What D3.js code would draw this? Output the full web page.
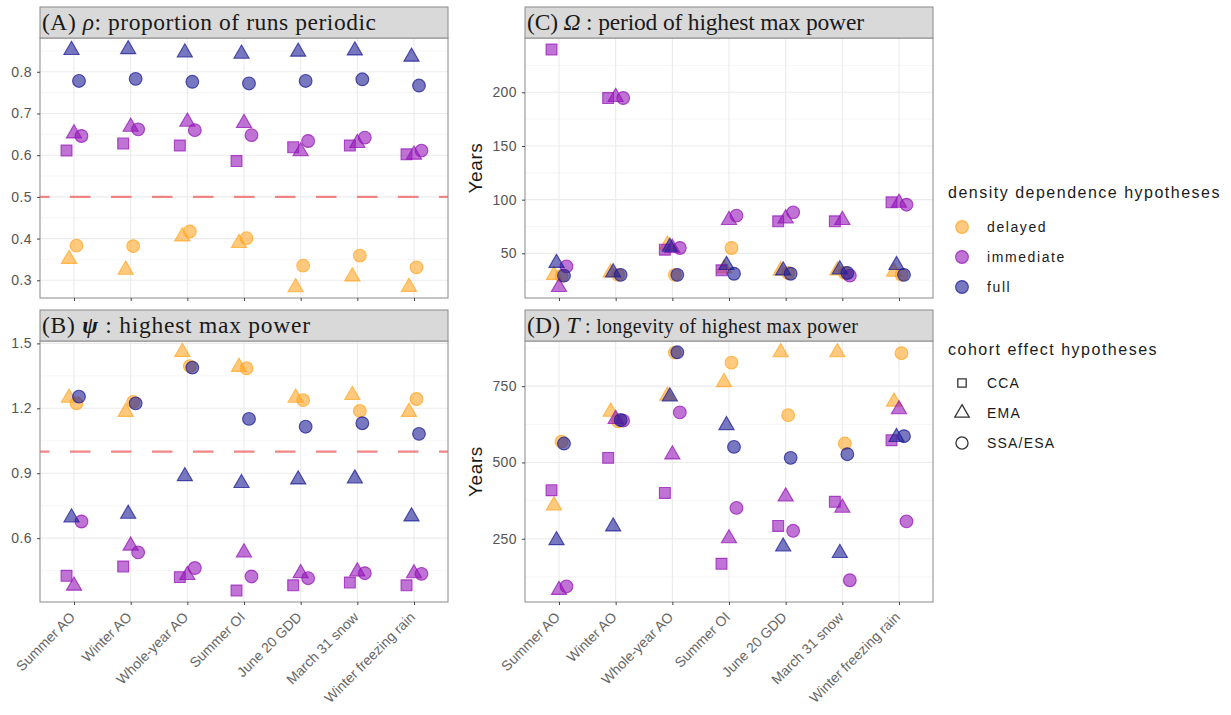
<!DOCTYPE html>
<html>
<head>
<meta charset="utf-8">
<script src="https://cdn.jsdelivr.net/npm/d3@7/dist/d3.min.js"></script>
<style>
  html, body { margin: 0; padding: 0; background: #fff; }
  svg { display: block; }
</style>
</head>
<body>
<svg id="chart" width="1231" height="715"></svg>
<script>
// ---- data -------------------------------------------------------------
const categories = ["Summer AO", "Winter AO", "Whole-year AO", "Summer OI",
  "June 20 GDD", "March 31 snow", "Winter freezing rain"];

// (A) rho: proportion of runs periodic
const rhoImmCCA  = [0.611, 0.628, 0.623, 0.586, 0.619, 0.623, 0.602];
const rhoImmEMA  = [0.652, 0.668, 0.680, 0.677, 0.609, 0.629, 0.601];
const rhoImmSSA  = [0.646, 0.662, 0.660, 0.648, 0.634, 0.642, 0.611];
const rhoDelEMA  = [0.351, 0.325, 0.405, 0.389, 0.283, 0.309, 0.284];
const rhoDelSSA  = [0.383, 0.382, 0.417, 0.401, 0.335, 0.359, 0.331];
const rhoFullEMA = [0.852, 0.854, 0.846, 0.843, 0.848, 0.851, 0.836];
const rhoFullSSA = [0.778, 0.783, 0.776, 0.772, 0.778, 0.782, 0.767];

// (B) psi: highest max power
const psiImmCCA  = [0.426, 0.469, 0.420, 0.358, 0.382, 0.395, 0.382];
const psiImmEMA  = [0.380, 0.565, 0.429, 0.534, 0.438, 0.446, 0.437];
const psiImmSSA  = [0.677, 0.534, 0.462, 0.423, 0.415, 0.438, 0.435];
const psiDelEMA  = [1.248, 1.183, 1.460, 1.391, 1.248, 1.261, 1.183];
const psiDelSSA  = [1.223, 1.230, 1.395, 1.385, 1.238, 1.188, 1.243];
const psiFullEMA = [0.695, 0.712, 0.886, 0.854, 0.871, 0.875, 0.700];
const psiFullSSA = [1.254, 1.223, 1.388, 1.151, 1.115, 1.131, 1.082];

// (C) Omega: period of highest max power (years)
const omegaImmCCA  = [239.8, 194.7, 53.4, 34.2, 79.8, 79.8, 97.5];
const omegaImmEMA  = [18.5, 195.5, 55.0, 81.0, 82.5, 81.0, 97.0];
const omegaImmSSA  = [37.9, 194.7, 55.0, 85.1, 88.2, 29.2, 95.3];
const omegaDelEMA  = [29.8, 32.0, 58.0, 36.0, 33.8, 34.0, 32.8];
const omegaDelSSA  = [29.0, 30.0, 30.0, 55.0, 31.7, 31.7, 30.0];
const omegaFullEMA = [41.0, 32.2, 56.0, 39.0, 34.0, 35.0, 39.0];
const omegaFullSSA = [29.2, 30.0, 30.0, 31.0, 31.0, 31.7, 30.0];

// (D) T: longevity of highest max power (years)
const tauImmCCA  = [409, 515, 400, 168, 292, 371, 573];
const tauImmEMA  = [82, 642, 526, 251, 388, 351, 674];
const tauImmSSA  = [94, 637, 664, 351, 276, 114, 307];
const tauDelEMA  = [359, 666, 718, 763, 861, 861, 699];
const tauDelSSA  = [568, 635, 860, 827, 655, 562, 858];
const tauFullEMA = [245, 290, 716, 622, 224, 203, 583];
const tauFullSSA = [562, 639, 861, 551, 515, 527, 586];

// axis ticks
const rhoTicks   = [0.3, 0.4, 0.5, 0.6, 0.7, 0.8];
const psiTicks   = [0.6, 0.9, 1.2, 1.5];
const omegaTicks = [50, 100, 150, 200];
const tauTicks   = [250, 500, 750];

// legend entries
const densityLevels = ["delayed", "immediate", "full"];
const cohortLevels  = ["CCA", "EMA", "SSA/ESA"];

// ---- styling ----------------------------------------------------------
const colours = { delayed: "#FFA726", immediate: "#9515B8", full: "#1E1E96" };
const symbolOf = { "CCA": d3.symbolSquare, "EMA": d3.symbolTriangle, "SSA/ESA": d3.symbolCircle };
const symbolSize = { "CCA": 118, "EMA": 100, "SSA/ESA": 128 };
// horizontal dodge slots (in units of the category step)
const dodgeSlot = {
  "immediate|CCA": -3, "delayed|EMA": -2, "full|EMA": -1, "immediate|EMA": 0,
  "delayed|SSA/ESA": 1, "full|SSA/ESA": 2, "immediate|SSA/ESA": 3
};
const dodgeUnit = 0.044;

function seriesFor(del, delS, imm, immE, immS, full, fullS) {
  // draw order: delayed, immediate, full
  return [
    { dens: "delayed",   cohort: "EMA",     values: del },
    { dens: "delayed",   cohort: "SSA/ESA", values: delS },
    { dens: "immediate", cohort: "CCA",     values: imm },
    { dens: "immediate", cohort: "EMA",     values: immE },
    { dens: "immediate", cohort: "SSA/ESA", values: immS },
    { dens: "full",      cohort: "EMA",     values: full },
    { dens: "full",      cohort: "SSA/ESA", values: fullS }
  ];
}

const panels = [
  { key: "A", x0: 40, x1: 448, y0: 38, y1: 298, domain: [0.2575, 0.881],
    ticks: rhoTicks, fmt: d3.format(".1f"), refLine: 0.5, yTitle: null, titleLen: 334,
    title: [{ t: "(A) " }, { t: "\u03C1", style: "italic" }, { t: ": proportion of runs periodic" }],
    series: seriesFor(rhoDelEMA, rhoDelSSA, rhoImmCCA, rhoImmEMA, rhoImmSSA, rhoFullEMA, rhoFullSSA) },
  { key: "B", x0: 40, x1: 448, y0: 341, y1: 602, domain: [0.305, 1.511],
    ticks: psiTicks, fmt: d3.format(".1f"), refLine: 1.0, yTitle: null, titleLen: 268,
    title: [{ t: "(B) " }, { t: "\u03C8", style: "italic", weight: "bold" }, { t: " : highest max power" }],
    series: seriesFor(psiDelEMA, psiDelSSA, psiImmCCA, psiImmEMA, psiImmSSA, psiFullEMA, psiFullSSA) },
  { key: "C", x0: 525, x1: 933, y0: 38, y1: 298, domain: [8.4, 250.6],
    ticks: omegaTicks, fmt: d3.format("d"), refLine: null, yTitle: "Years", titleLen: 337,
    title: [{ t: "(C) " }, { t: "\u03A9", style: "italic" }, { t: " : period of highest max power" }],
    series: seriesFor(omegaDelEMA, omegaDelSSA, omegaImmCCA, omegaImmEMA, omegaImmSSA, omegaFullEMA, omegaFullSSA) },
  { key: "D", x0: 525, x1: 933, y0: 341, y1: 602, domain: [42.7, 898],
    ticks: tauTicks, fmt: d3.format("d"), refLine: null, yTitle: "Years", titleLen: 331,
    title: [{ t: "(D) " }, { t: "T", style: "italic" }, { t: " : longevity of highest max power", size: 20 }],
    series: seriesFor(tauDelEMA, tauDelSSA, tauImmCCA, tauImmEMA, tauImmSSA, tauFullEMA, tauFullSSA) }
];

const svg = d3.select("#chart");
const stripH = 31;
const sans = "'Liberation Sans', Arial, sans-serif";
const serif = "'Liberation Serif', 'Times New Roman', serif";
const titleSize = 23.5;

panels.forEach(p => {
  const g = svg.append("g");
  const x = d3.scalePoint().domain(categories).range([p.x0, p.x1]).padding(0.6);
  const y = d3.scaleLinear().domain(p.domain).range([p.y1, p.y0]);
  const step = x.step();

  // minor grid: midpoints between major ticks, extended to the panel edges
  const tickStep = p.ticks[1] - p.ticks[0];
  const minor = [];
  for (let v = p.ticks[0] - tickStep / 2; v <= p.domain[1]; v += tickStep) {
    if (v >= p.domain[0]) minor.push(v);
  }
  g.append("g").selectAll("line").data(minor).join("line")
    .attr("x1", p.x0).attr("x2", p.x1)
    .attr("y1", d => y(d)).attr("y2", d => y(d))
    .attr("stroke", "#f0f0f0").attr("stroke-width", 0.6);
  g.append("g").selectAll("line").data(p.ticks).join("line")
    .attr("x1", p.x0).attr("x2", p.x1)
    .attr("y1", d => y(d)).attr("y2", d => y(d))
    .attr("stroke", "#ebebeb").attr("stroke-width", 1.1);
  g.append("g").selectAll("line").data(categories).join("line")
    .attr("x1", d => x(d)).attr("x2", d => x(d))
    .attr("y1", p.y0).attr("y2", p.y1)
    .attr("stroke", "#ebebeb").attr("stroke-width", 1.1);

  if (p.refLine !== null) {
    g.append("line")
      .attr("x1", p.x0).attr("x2", p.x1)
      .attr("y1", y(p.refLine)).attr("y2", y(p.refLine))
      .attr("stroke", "#F07070").attr("stroke-opacity", 0.85)
      .attr("stroke-width", 2.4)
      .attr("stroke-dasharray", "20.5 20.5").attr("stroke-dashoffset", 11);
  }

  // points
  p.series.forEach(s => {
    const slot = dodgeSlot[s.dens + "|" + s.cohort];
    const sym = d3.symbol().type(symbolOf[s.cohort]).size(symbolSize[s.cohort]);
    g.append("g").selectAll("path").data(s.values).join("path")
      .attr("d", sym)
      .attr("transform", (d, i) =>
        `translate(${x(categories[i]) + slot * dodgeUnit * step},${y(d)})`)
      .attr("fill", colours[s.dens]).attr("fill-opacity", 0.6)
      .attr("stroke", colours[s.dens]).attr("stroke-opacity", 0.75)
      .attr("stroke-width", 1.1);
  });

  // panel border
  g.append("rect")
    .attr("x", p.x0).attr("y", p.y0)
    .attr("width", p.x1 - p.x0).attr("height", p.y1 - p.y0)
    .attr("fill", "none").attr("stroke", "#8a8a8a").attr("stroke-width", 1);

  // strip
  g.append("rect")
    .attr("x", p.x0).attr("y", p.y0 - stripH)
    .attr("width", p.x1 - p.x0).attr("height", stripH)
    .attr("fill", "#d9d9d9").attr("stroke", "#8a8a8a").attr("stroke-width", 1);
  const st = g.append("text")
    .attr("x", p.x0 + 2).attr("y", p.y0 - 8)
    .attr("textLength", p.titleLen).attr("lengthAdjust", "spacing")
    .attr("font-family", serif).attr("font-size", titleSize).attr("fill", "#1a1a1a");
  p.title.forEach(part => {
    st.append("tspan").text(part.t)
      .attr("font-style", part.style || "normal")
      .attr("font-weight", part.weight || "normal")
      .attr("font-size", part.size || titleSize);
  });

  // y axis
  const ya = g.append("g").attr("transform", `translate(${p.x0},0)`)
    .call(d3.axisLeft(y).tickValues(p.ticks).tickFormat(p.fmt).tickSize(3).tickPadding(5));
  ya.select(".domain").remove();
  ya.selectAll(".tick line").attr("stroke", "#444");
  ya.selectAll(".tick text").attr("font-family", sans).attr("font-size", 14)
    .attr("fill", "#555").attr("letter-spacing", 0.4);

  // x axis (labels only on the bottom panels)
  const xa = g.append("g").attr("transform", `translate(0,${p.y1})`)
    .call(d3.axisBottom(x).tickSize(3).tickFormat(""));
  xa.select(".domain").remove();
  xa.selectAll(".tick line").attr("stroke", "#444");
  if (p.key === "B" || p.key === "D") {
    g.append("g").selectAll("text").data(categories).join("text")
      .attr("transform", d => `translate(${x(d) + 2},${p.y1 + 16}) rotate(-45)`)
      .attr("text-anchor", "end")
      .attr("font-family", sans).attr("font-size", 14)
      .attr("fill", "#666").text(d => d);
  }

  if (p.yTitle) {
    g.append("text")
      .attr("transform", `translate(${p.x0 - 43},${(p.y0 + p.y1) / 2}) rotate(-90)`)
      .attr("text-anchor", "middle")
      .attr("font-family", sans).attr("font-size", 19).attr("letter-spacing", 0.6)
      .attr("fill", "#1a1a1a").text(p.yTitle);
  }
});

// ---- legends ----------------------------------------------------------
const lg = svg.append("g");
lg.append("text").attr("x", 948).attr("y", 198)
  .attr("font-family", sans).attr("font-size", 16).attr("letter-spacing", 1.5)
  .attr("fill", "#1a1a1a").text("density dependence hypotheses");
lg.append("g").selectAll("path").data(densityLevels).join("path")
  .attr("d", d3.symbol().type(d3.symbolCircle).size(128))
  .attr("transform", (d, i) => `translate(962,${227 + i * 30})`)
  .attr("fill", d => colours[d]).attr("fill-opacity", 0.6)
  .attr("stroke", d => colours[d]).attr("stroke-opacity", 0.75).attr("stroke-width", 1.1);
lg.append("g").selectAll("text").data(densityLevels).join("text")
  .attr("x", 987).attr("y", (d, i) => 227 + i * 30).attr("dy", "0.35em")
  .attr("font-family", sans).attr("font-size", 14).attr("letter-spacing", 1.6)
  .attr("fill", "#1a1a1a").text(d => d);

lg.append("text").attr("x", 948).attr("y", 355)
  .attr("font-family", sans).attr("font-size", 16).attr("letter-spacing", 1.5)
  .attr("fill", "#1a1a1a").text("cohort effect hypotheses");
lg.append("g").selectAll("path").data(cohortLevels).join("path")
  .attr("d", d => d3.symbol().type(symbolOf[d]).size(d === "CCA" ? 70 : symbolSize[d] * 0.9)())
  .attr("transform", (d, i) => `translate(962,${383 + i * 30})`)
  .attr("fill", "none").attr("stroke", "#333").attr("stroke-width", 1.3);
lg.append("g").selectAll("text").data(cohortLevels).join("text")
  .attr("x", 987).attr("y", (d, i) => 383 + i * 30).attr("dy", "0.35em")
  .attr("font-family", sans).attr("font-size", 14).attr("letter-spacing", 1.2)
  .attr("fill", "#1a1a1a").text(d => d);
</script>
</body>
</html>
